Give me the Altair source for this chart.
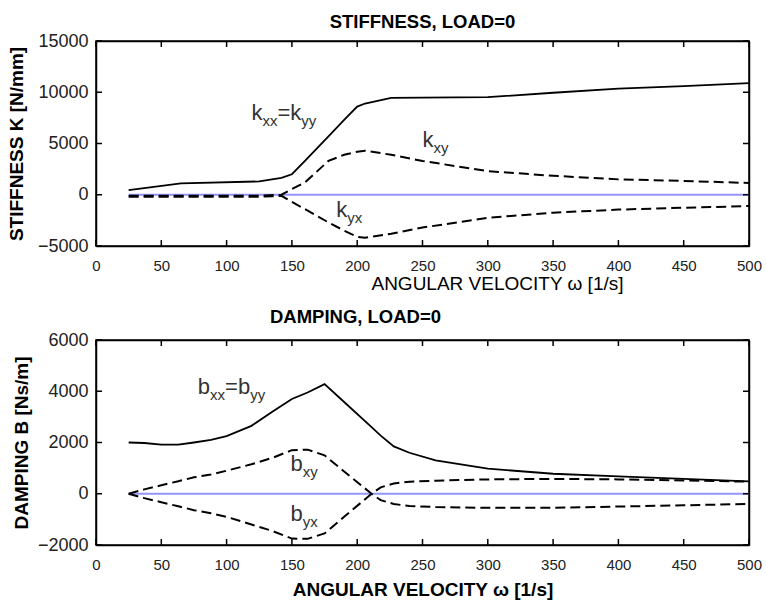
import altair as alt
import pandas as pd

# ---- stiffness coefficients [N/mm] vs angular velocity [1/s], load = 0 ----
omega_k = [25, 65, 125, 142, 150, 160, 178, 190, 200, 206, 226, 250, 300, 350, 400, 450, 500]
k_xx = [450, 1100, 1300, 1650, 2000, 3300, 5700, 7300, 8600, 8900, 9450, 9480, 9520, 9950, 10350, 10600, 10900]
k_xy = [-100, -100, -100, 0, 550, 1200, 3300, 3900, 4200, 4300, 3900, 3300, 2300, 1850, 1500, 1350, 1150]
k_yx = [-200, -200, -200, -100, -700, -1400, -2700, -3500, -4100, -4200, -3800, -3200, -2250, -1750, -1450, -1270, -1100]

# ---- damping coefficients [Ns/m] vs angular velocity [1/s], load = 0 ----
omega_b = [25, 37, 50, 63, 75, 88, 100, 119, 135, 150, 162, 175, 190, 211, 218, 228, 240, 260, 300, 350, 400, 450, 500]
b_xx = [2000, 1980, 1920, 1920, 2000, 2100, 2250, 2650, 3200, 3700, 3950, 4280, 3580, 2600, 2270, 1850, 1600, 1300, 980, 780, 680, 580, 480]
b_xy = [0, 170, 330, 490, 640, 750, 900, 1150, 1400, 1700, 1720, 1500, 870, 0, -250, -400, -480, -520, -550, -550, -500, -450, -400]
b_yx = [0, -170, -330, -490, -640, -760, -900, -1200, -1450, -1750, -1760, -1550, -900, 0, 250, 400, 470, 510, 560, 580, 560, 520, 470]

x_ticks = [0, 50, 100, 150, 200, 250, 300, 350, 400, 450, 500]
k_ticks = [-5000, 0, 5000, 10000, 15000]
b_ticks = [-2000, 0, 2000, 4000, 6000]

FONT = "Liberation Sans"
W, H = 653, 205
TICK = 6  # length of the inward tick marks on the box edges


def long_frame(omega, curves):
    rows = []
    for name, vals in curves.items():
        for w, v in zip(omega, vals):
            rows.append({"omega": w, "value": v, "series": name})
    return pd.DataFrame(rows)


def xe(axis, field="omega:Q"):
    return alt.X(field, scale=alt.Scale(domain=[0, 500], nice=False, zero=False), axis=axis)


def ye(dom, axis, field="value:Q"):
    return alt.Y(field, scale=alt.Scale(domain=dom, nice=False, zero=False), axis=axis)


def frame_side(orient):
    # plain box edge
    return alt.Axis(orient=orient, labels=False, title=None, domain=True, ticks=False,
                    tickSize=0, grid=False, domainColor="black", domainWidth=1.5,
                    domainOpacity=1)


def inward_ticks(ydom, yticks):
    # short tick stubs on all four box edges, pointing into the plot
    xt = pd.DataFrame({"t": x_ticks})
    yt = pd.DataFrame({"t": yticks})
    rule = dict(color="black", strokeWidth=1.5)
    return [
        alt.Chart(xt).mark_rule(**rule).encode(
            x=xe(None, "t:Q"), y=alt.value(0), y2=alt.value(TICK)),
        alt.Chart(xt).mark_rule(**rule).encode(
            x=xe(None, "t:Q"), y=alt.value(H - TICK), y2=alt.value(H)),
        alt.Chart(yt).mark_rule(**rule).encode(
            y=ye(ydom, None, "t:Q"), x=alt.value(0), x2=alt.value(TICK)),
        alt.Chart(yt).mark_rule(**rule).encode(
            y=ye(ydom, None, "t:Q"), x=alt.value(W - TICK), x2=alt.value(W)),
    ]


def panel(omega, solid, dashed, ydom, yticks, ytitle, ytitle_pad, xtitle, xtitle_bold,
          xtitle_pad, xtitle_kw, title, title_offset, title_dx, labels):
    bottom_axis = alt.Axis(
        orient="bottom", values=x_ticks, format="d", domain=True, domainColor="black",
        domainWidth=1.5, ticks=False, tickSize=0, grid=False,
        labelPadding=12, labelFontSize=15, labelFont=FONT, labelColor="#222",
        labelFlush=False, labelOverlap=False, title=xtitle, titleFont=FONT,
        titleFontSize=19, titleFontWeight="bold" if xtitle_bold else "normal",
        titleColor="black", titlePadding=xtitle_pad, **xtitle_kw)
    left_axis = alt.Axis(
        orient="left", values=yticks, format="d", domain=True, domainColor="black",
        domainWidth=1.5, ticks=False, tickSize=0, grid=False,
        labelPadding=8, labelFontSize=18, labelFont=FONT, labelColor="#222",
        labelFlush=False, labelOverlap=False, title=ytitle, titleFont=FONT,
        titleFontSize=19, titleFontWeight="bold", titleColor="black",
        titlePadding=ytitle_pad)

    zero_df = pd.DataFrame({"omega": [omega[0], omega[-1]], "value": [0, 0]})
    zero = alt.Chart(zero_df).mark_line(color="#9494ff", strokeWidth=2).encode(
        x=xe(bottom_axis), y=ye(ydom, left_axis))

    solid_line = alt.Chart(long_frame(omega, solid)).mark_line(
        color="black", strokeWidth=1.8).encode(
        x=xe(frame_side("top")), y=ye(ydom, frame_side("right")),
        detail="series:N")

    dashed_lines = alt.Chart(long_frame(omega, dashed)).mark_line(
        color="black", strokeWidth=2, strokeDash=[10, 5]).encode(
        x=xe(None), y=ye(ydom, None), detail="series:N")

    # curve labels: base letter + subscript pieces placed side by side
    texts = []
    for lx, ly, pieces in labels:
        df = pd.DataFrame({"omega": [lx], "value": [ly]})
        dx = 0.0
        for txt, sub, width in pieces:
            size = 15 if sub else 22
            texts.append(
                alt.Chart(df).mark_text(
                    text=txt, align="left", baseline="alphabetic", font=FONT,
                    fontSize=size, color="#333", dx=dx, dy=6 if sub else 0
                ).encode(x=xe(None), y=ye(ydom, None)))
            dx += width * size

    layers = [zero, solid_line, dashed_lines] + inward_ticks(ydom, yticks) + texts
    return alt.layer(*layers).resolve_axis(
        x="independent", y="independent").properties(
        width=W, height=H,
        title=alt.Title(title, font=FONT, fontSize=18.5, fontWeight="bold", color="black",
                        baseline="alphabetic", offset=title_offset, frame="group",
                        anchor="middle", dx=title_dx))


def lab_pair(base, s1, s2):
    # "b_s1=b_s2" built from pieces (text, is_subscript, width in em)
    bw = 0.556 if base == "b" else 0.5
    return [(base, False, bw), (s1, True, 1.0), ("=" + base, False, 0.584 + bw), (s2, True, 1.0)]


def lab_one(base, s):
    bw = 0.556 if base == "b" else 0.5
    return [(base, False, bw), (s, True, 1.0)]


stiffness = panel(
    omega_k, {"kxx": k_xx}, {"kxy": k_xy, "kyx": k_yx},
    [-5000, 15000], k_ticks, "STIFFNESS K [N/mm]", 11,
    "ANGULAR VELOCITY ω [1/s]", False, 1, {"titleX": 401},
    "STIFFNESS, LOAD=0", -14.5, 0,
    [(119, 7300, lab_pair("k", "xx", "yy")),
     (250, 4650, lab_one("k", "xy")),
     (184, -2150, lab_one("k", "yx"))])

damping = panel(
    omega_b, {"bxx": b_xx}, {"bxy": b_xy, "byx": b_yx},
    [-2000, 6000], b_ticks, "DAMPING B [Ns/m]", 6,
    "ANGULAR VELOCITY ω [1/s]", True, 8, {},
    "DAMPING, LOAD=0", -10, -67,
    [(78, 3900, lab_pair("b", "xx", "yy")),
     (149, 900, lab_one("b", "xy")),
     (149, -1050, lab_one("b", "yx"))])

chart = alt.vconcat(
    stiffness, damping, spacing=94, bounds="flush",
    padding={"left": 6, "top": 12, "right": 0, "bottom": 0}
).configure_view(stroke="black", strokeWidth=1.5)

chart.save("out.html", embed_options={"renderer": "svg", "actions": False})
